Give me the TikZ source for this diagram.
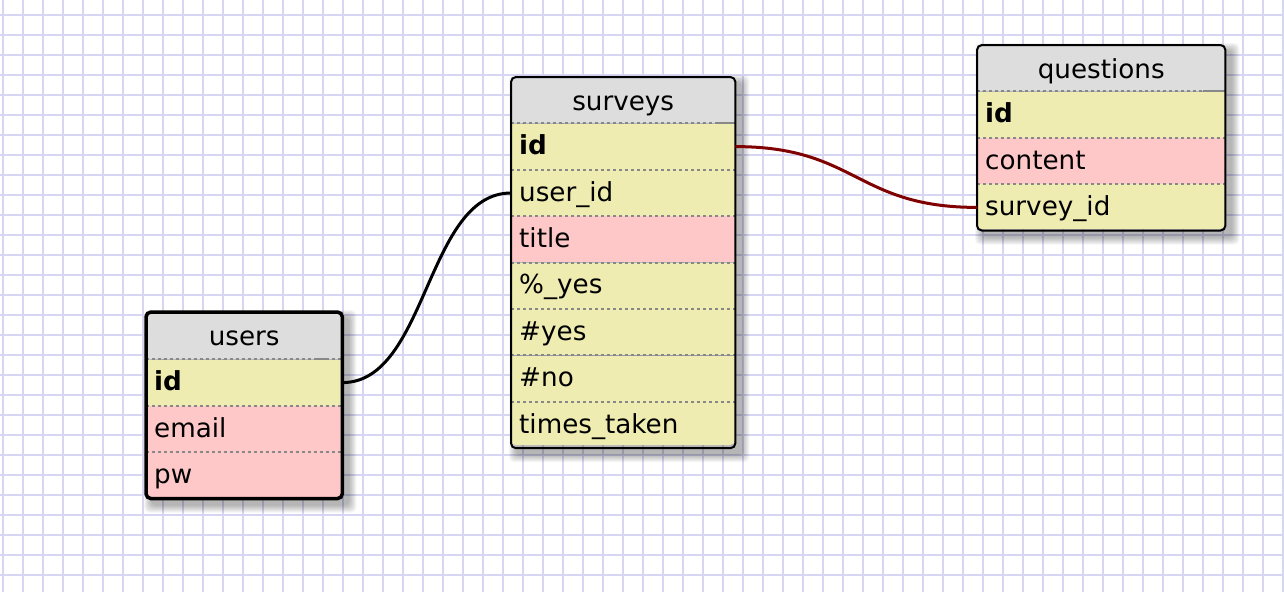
\documentclass[tikz,border=0pt]{standalone}
\usepackage{fontspec}
\setmainfont{DejaVu Sans}
\usetikzlibrary{calc,backgrounds}

\definecolor{gridline}{RGB}{214,214,242}
\definecolor{hdrgray}{RGB}{221,221,221}
\definecolor{keyyellow}{RGB}{238,236,176}
\definecolor{fieldpink}{RGB}{255,200,200}
\definecolor{sepgray}{RGB}{136,136,136}
\definecolor{relred}{RGB}{128,0,0}

\newcommand\tabfont{\fontsize{26.2}{30}\selectfont}

\tikzset{
  x=1pt, y=-1pt,
  cellbase/.style={anchor=north west, inner xsep=8pt, inner ysep=0pt,
    minimum height=46pt, font=\tabfont, text height=20pt, text depth=4pt},
  tabhead/.style={cellbase, fill=hdrgray, align=center, text height=22pt, text depth=2pt},
  keyrow/.style={cellbase, fill=keyyellow, align=left},
  fieldrow/.style={cellbase, fill=fieldpink, align=left},
  rowsep/.style={draw=sepgray, line width=2pt, dash pattern=on 3pt off 3pt},
  headsep/.style={draw=sepgray, line width=2pt},
  tabborder/.style={draw=black, line width=2pt, rounded corners=5pt},
  relline/.style={line width=3pt},
}

% soft drop shadow under a table, given its two corners
\newcommand\tabshadow[2]{%
  \foreach \k in {1,...,8}{%
    \fill[black, opacity=0.04, rounded corners=5pt]
      ($(#1)+(6-\k,6-\k)$) rectangle ($(#2)+(6+\k,6+\k)$);}}

\begin{document}
\begin{tikzpicture}
\useasboundingbox (0,0) rectangle (1284,592);

% ---------- surveys ----------
\begin{scope}
\clip[rounded corners=5pt] (511,77) rectangle (735,445);
\node[tabhead, text width=208pt] (sv-head) at (511,77) {surveys};
\node[keyrow, text width=208pt] (sv-id) at (sv-head.south west) {\textbf{id}};
\node[keyrow, text width=208pt] (sv-userid) at (sv-id.south west) {user\_id};
\node[fieldrow, text width=208pt] (sv-title) at (sv-userid.south west) {title};
\node[keyrow, text width=208pt] (sv-pyes) at (sv-title.south west) {\%\_yes};
\node[keyrow, text width=208pt] (sv-nyes) at (sv-pyes.south west) {\#yes};
\node[keyrow, text width=208pt] (sv-nno) at (sv-nyes.south west) {\#no};
\node[keyrow, text width=208pt] (sv-times) at (sv-nno.south west) {times\_taken};
\foreach \r in {sv-id,sv-userid,sv-title,sv-pyes,sv-nyes,sv-nno,sv-times}
  \draw[rowsep] (\r.north west) -- (\r.north east);
\draw[headsep] ($(sv-id.north east)+(-20,0)$) -- (sv-id.north east);
\end{scope}
\draw[tabborder] (sv-head.north west) rectangle (sv-times.south east);

% ---------- users ----------
\begin{scope}
\clip[rounded corners=5pt] (146,312) rectangle (342,497);
\node[tabhead, text width=180pt, minimum height=47pt] (us-head) at (146,312) {users};
\node[keyrow, text width=180pt] (us-id) at (us-head.south west) {\textbf{id}};
\node[fieldrow, text width=180pt] (us-email) at (us-id.south west) {email};
\node[fieldrow, text width=180pt] (us-pw) at (us-email.south west) {pw};
\foreach \r in {us-id,us-email,us-pw}
  \draw[rowsep] (\r.north west) -- (\r.north east);
\draw[headsep] ($(us-id.north east)+(-28,0)$) -- ($(us-id.north east)+(-14,0)$);
\end{scope}
\draw[tabborder, line width=3.5pt] (us-head.north west) rectangle (us-pw.south east);

% ---------- questions ----------
\begin{scope}
\clip[rounded corners=5pt] (977,45) rectangle (1225,229);
\node[tabhead, text width=232pt] (qu-head) at (977,45) {questions};
\node[keyrow, text width=232pt] (qu-id) at (qu-head.south west) {\textbf{id}};
\node[fieldrow, text width=232pt] (qu-content) at (qu-id.south west) {content};
\node[keyrow, text width=232pt] (qu-surveyid) at (qu-content.south west) {survey\_id};
\foreach \r in {qu-id,qu-content,qu-surveyid}
  \draw[rowsep] (\r.north west) -- (\r.north east);
\draw[headsep] ($(qu-id.north east)+(-22,0)$) -- (qu-id.north east);
\end{scope}
\draw[tabborder] (qu-head.north west) rectangle (qu-surveyid.south east);

% ---------- relations ----------
\draw[relline, black] (us-id.east) .. controls +(85,0) and +(-85,0) .. (sv-userid.west);
\draw[relline, relred] (sv-id.east) .. controls +(121,0) and +(-121,0) .. (qu-surveyid.west);

% ---------- paper grid and shadows ----------
\begin{scope}[on background layer]
\fill[white] (0,0) rectangle (1284,592);
\foreach \gx in {3,23,...,1283}
  \draw[gridline, line width=1.8pt] (\gx,0) -- (\gx,592);
\foreach \gy in {15,35,...,591}
  \draw[gridline, line width=1.8pt] (0,\gy) -- (1284,\gy);
\tabshadow{sv-head.north west}{sv-times.south east}
\tabshadow{us-head.north west}{us-pw.south east}
\tabshadow{qu-head.north west}{qu-surveyid.south east}
\end{scope}
\end{tikzpicture}
\end{document}
